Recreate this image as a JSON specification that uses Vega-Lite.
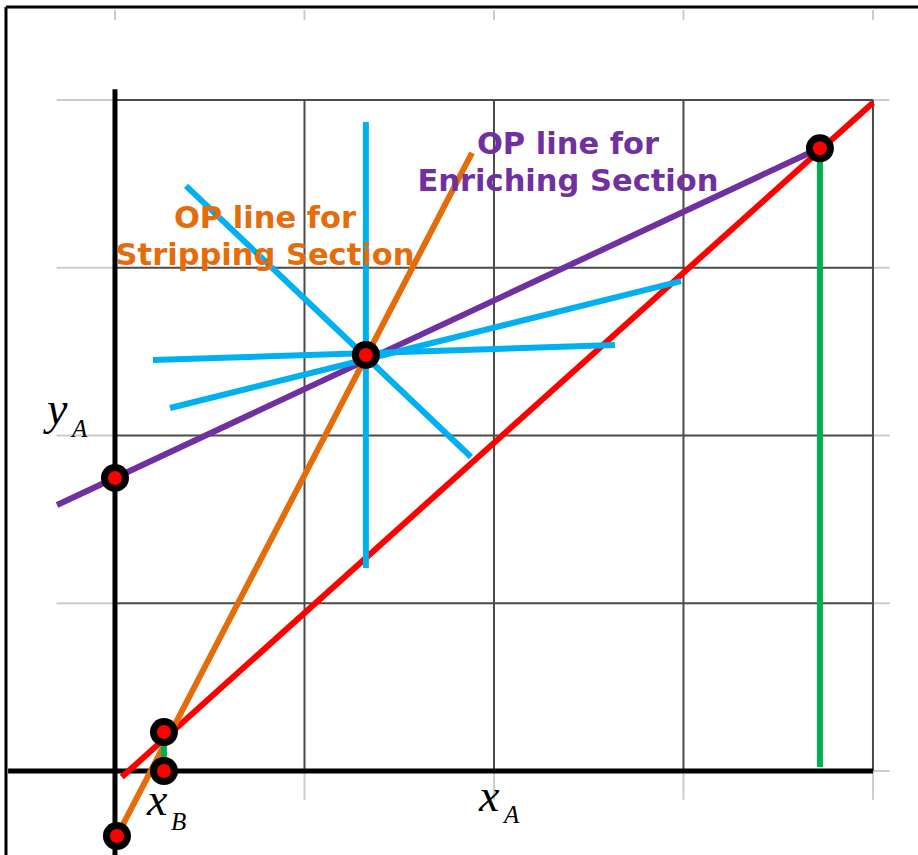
{
  "$schema": "https://vega.github.io/schema/vega-lite/v6.json",
  "width": 918,
  "height": 855,
  "autosize": {"type": "none"},
  "padding": 0,
  "background": "white",
  "config": {"view": {"stroke": null}},
  "encoding": {
    "x": {"field": "x", "type": "quantitative", "scale": {"domain": [-0.1517, 1.0594], "nice": false, "zero": false}, "axis": null},
    "y": {"field": "y", "type": "quantitative", "scale": {"domain": [-0.1252, 1.149], "nice": false, "zero": false}, "axis": null}
  },
  "layer": [
    {
      "data": {"values": [
        {"x": 0, "x2": 0, "y": 0, "y2": -0.043},
        {"x": 0.25, "x2": 0.25, "y": 0, "y2": -0.043},
        {"x": 0.5, "x2": 0.5, "y": 0, "y2": -0.043},
        {"x": 0.75, "x2": 0.75, "y": 0, "y2": -0.043},
        {"x": 1, "x2": 1, "y": 0, "y2": -0.043},
        {"x": 0, "x2": 0, "y": 1.119, "y2": 1.134},
        {"x": 0.25, "x2": 0.25, "y": 1.119, "y2": 1.134},
        {"x": 0.5, "x2": 0.5, "y": 1.119, "y2": 1.134},
        {"x": 0.75, "x2": 0.75, "y": 1.119, "y2": 1.134},
        {"x": 1, "x2": 1, "y": 1.119, "y2": 1.134},
        {"x": -0.077, "x2": 0, "y": 1, "y2": 1},
        {"x": -0.077, "x2": 0, "y": 0.75, "y2": 0.75},
        {"x": -0.077, "x2": 0, "y": 0.5, "y2": 0.5},
        {"x": -0.077, "x2": 0, "y": 0.25, "y2": 0.25},
        {"x": 1, "x2": 1.022, "y": 1, "y2": 1},
        {"x": 1, "x2": 1.022, "y": 0.75, "y2": 0.75},
        {"x": 1, "x2": 1.022, "y": 0.5, "y2": 0.5},
        {"x": 1, "x2": 1.022, "y": 0.25, "y2": 0.25},
        {"x": 1, "x2": 1.022, "y": 0, "y2": 0}
      ]},
      "mark": {"type": "rule", "color": "#cccccc", "strokeWidth": 2},
      "encoding": {"x2": {"field": "x2"}, "y2": {"field": "y2"}}
    },
    {
      "data": {"values": [
        {"x": 0.25, "x2": 0.25, "y": 0, "y2": 1},
        {"x": 0.5, "x2": 0.5, "y": 0, "y2": 1},
        {"x": 0.75, "x2": 0.75, "y": 0, "y2": 1},
        {"x": 1, "x2": 1, "y": 0, "y2": 1},
        {"x": 0, "x2": 1, "y": 0.25, "y2": 0.25},
        {"x": 0, "x2": 1, "y": 0.5, "y2": 0.5},
        {"x": 0, "x2": 1, "y": 0.75, "y2": 0.75},
        {"x": 0, "x2": 1, "y": 1, "y2": 1}
      ]},
      "mark": {"type": "rule", "color": "#4a4a4a", "strokeWidth": 2},
      "encoding": {"x2": {"field": "x2"}, "y2": {"field": "y2"}}
    },
    {
      "data": {"values": [
        {"x": -0.1438, "x2": -0.1438, "y": -0.1252, "y2": 1.1386},
        {"x": -0.1438, "x2": 1.0594, "y": 1.1386, "y2": 1.1386}
      ]},
      "mark": {"type": "rule", "color": "black", "strokeWidth": 3},
      "encoding": {"x2": {"field": "x2"}, "y2": {"field": "y2"}}
    },
    {
      "data": {"values": [
        {"x": -0.141, "x2": 1.0, "y": 0, "y2": 0},
        {"x": 0, "x2": 0, "y": -0.1252, "y2": 1.016}
      ]},
      "mark": {"type": "rule", "color": "black", "strokeWidth": 5},
      "encoding": {"x2": {"field": "x2"}, "y2": {"field": "y2"}}
    },
    {
      "data": {"values": [
        {"s": "equilibrium", "x": 0.009, "y": -0.009, "x2": 1.0, "y2": 0.996},
        {"s": "enriching", "x": -0.0765, "y": 0.3964, "x2": 0.93, "y2": 0.9285},
        {"s": "stripping", "x": 0.0026, "y": -0.0969, "x2": 0.471, "y2": 0.921},
        {"s": "q", "x": 0.331, "y": 0.967, "x2": 0.331, "y2": 0.3025},
        {"s": "q", "x": 0.0937, "y": 0.872, "x2": 0.4697, "y2": 0.468},
        {"s": "q", "x": 0.0501, "y": 0.6125, "x2": 0.6596, "y2": 0.6349},
        {"s": "q", "x": 0.0726, "y": 0.541, "x2": 0.7467, "y2": 0.730},
        {"s": "comp", "x": 0.93, "y": 0.928, "x2": 0.93, "y2": 0.006},
        {"s": "comp", "x": 0.0646, "y": 0.058, "x2": 0.0646, "y2": 0}
      ]},
      "mark": {"type": "rule", "strokeWidth": 6},
      "encoding": {
        "x2": {"field": "x2"},
        "y2": {"field": "y2"},
        "color": {"field": "s", "type": "nominal", "legend": null,
          "scale": {"domain": ["equilibrium", "enriching", "stripping", "q", "comp"],
                    "range": ["#ff0000", "#7030a0", "#e46c0a", "#00b0f0", "#00b050"]}}
      }
    },
    {
      "data": {"values": [
        {"x": 0.93, "y": 0.928},
        {"x": 0.331, "y": 0.62},
        {"x": 0, "y": 0.4367},
        {"x": 0.0646, "y": 0.058},
        {"x": 0.0646, "y": 0},
        {"x": 0.0026, "y": -0.0969}
      ]},
      "layer": [
        {"mark": {"type": "point", "shape": "circle", "filled": true, "color": "black", "opacity": 1, "size": 784}},
        {"mark": {"type": "point", "shape": "circle", "filled": true, "color": "#ff0000", "opacity": 1, "size": 196}}
      ]
    },
    {
      "data": {"values": [
        {"x": 0.5976, "y": 0.9195, "t": "OP line for", "s": "enriching"},
        {"x": 0.5976, "y": 0.8644, "t": "Enriching Section", "s": "enriching"},
        {"x": 0.1979, "y": 0.8092, "t": "OP line for", "s": "stripping"},
        {"x": 0.1979, "y": 0.7541, "t": "Stripping Section", "s": "stripping"}
      ]},
      "mark": {"type": "text", "font": "DejaVu Sans", "fontWeight": "bold", "fontSize": 30.5, "align": "center", "baseline": "alphabetic"},
      "encoding": {
        "text": {"field": "t"},
        "color": {"field": "s", "type": "nominal", "legend": null,
          "scale": {"domain": ["equilibrium", "enriching", "stripping", "q", "comp"],
                    "range": ["#ff0000", "#7030a0", "#e46c0a", "#00b0f0", "#00b050"]}}
      }
    },
    {
      "data": {"values": [
        {"x": 0.4802, "y": -0.0596, "t": "x"},
        {"x": 0.0422, "y": -0.0656, "t": "x"},
        {"x": -0.0897, "y": 0.517, "t": "y"}
      ]},
      "mark": {"type": "text", "font": "Liberation Serif", "fontStyle": "italic", "fontSize": 46, "align": "left", "baseline": "alphabetic", "color": "black"},
      "encoding": {"text": {"field": "t"}}
    },
    {
      "data": {"values": [
        {"x": 0.5132, "y": -0.0775, "t": "A"},
        {"x": 0.0739, "y": -0.0879, "t": "B"},
        {"x": -0.0567, "y": 0.4978, "t": "A"}
      ]},
      "mark": {"type": "text", "font": "Liberation Serif", "fontStyle": "italic", "fontSize": 25, "align": "left", "baseline": "alphabetic", "color": "black"},
      "encoding": {"text": {"field": "t"}}
    }
  ]
}
